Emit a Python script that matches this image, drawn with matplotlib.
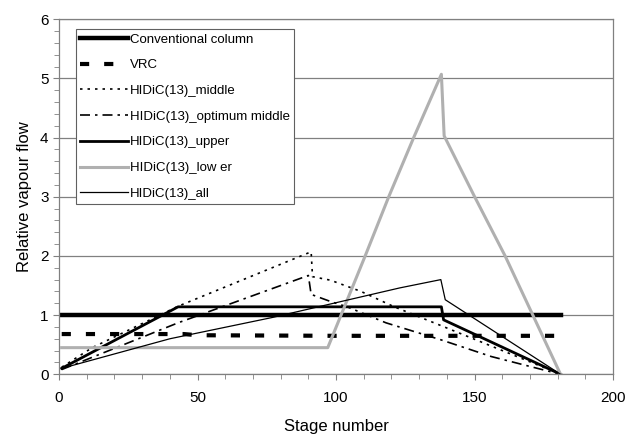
import matplotlib
matplotlib.use("Agg")
import matplotlib.pyplot as plt
from matplotlib.ticker import MultipleLocator

plt.rcParams['font.family'] = ['Liberation Sans', 'DejaVu Sans']

# stage numbers and relative vapour flow
conv_x = [1, 181]
conv_y = [1.0, 1.0]

vrc_x = [1, 45, 50, 100, 140, 179]
vrc_y = [0.68, 0.68, 0.66, 0.65, 0.65, 0.65]

middle_x = [1, 12, 43, 91, 91.5, 98, 109, 121, 138, 181]
middle_y = [0.12, 0.45, 1.15, 2.07, 1.65, 1.59, 1.40, 1.14, 0.82, 0.0]

optimum_x = [1, 43, 90, 91, 98, 104, 118, 138, 156, 181]
optimum_y = [0.08, 0.87, 1.67, 1.35, 1.23, 1.14, 0.87, 0.58, 0.30, 0.0]

upper_x = [1, 43, 138, 138.8, 181]
upper_y = [0.10, 1.14, 1.14, 0.92, 0.0]

lower_x = [1, 97, 110.5, 119, 128, 138, 139, 150, 161, 181]
lower_y = [0.45, 0.45, 2.0, 3.0, 4.0, 5.07, 4.03, 3.0, 2.0, 0.0]

all_x = [1, 40, 77, 123, 137.8, 139.4, 181]
all_y = [0.10, 0.60, 0.96, 1.46, 1.60, 1.26, 0.0]

labels = ["Conventional column", "VRC", "HIDiC(13)_middle",
          "HIDiC(13)_optimum middle", "HIDiC(13)_upper",
          "HIDiC(13)_low er", "HIDiC(13)_all"]


def draw():
    fig = plt.figure(figsize=(6.27, 4.34), dpi=100)
    ax = fig.add_axes([0.094, 0.1376, 0.884, 0.818])

    ax.plot(conv_x, conv_y, color="black", lw=3.2, label=labels[0])
    ax.plot(vrc_x, vrc_y, color="black", lw=3.0, dashes=(2.2, 3.6), label=labels[1])
    ax.plot(middle_x, middle_y, color="black", lw=1.2, dashes=(1.5, 3), label=labels[2])
    ax.plot(optimum_x, optimum_y, color="black", lw=1.2, dashes=(6, 3, 1.5, 3), label=labels[3])
    ax.plot(upper_x, upper_y, color="black", lw=2.0, label=labels[4])
    ax.plot(lower_x, lower_y, color="#b0b0b0", lw=2.2, label=labels[5])
    ax.plot(all_x, all_y, color="black", lw=0.9, label=labels[6])

    ax.set_xlim(0, 200)
    ax.set_ylim(0, 6)
    ax.xaxis.set_major_locator(MultipleLocator(50))
    ax.xaxis.set_minor_locator(MultipleLocator(10))
    ax.yaxis.set_major_locator(MultipleLocator(1))
    ax.yaxis.set_minor_locator(MultipleLocator(0.2))
    ax.tick_params(which="both", direction="out", color="#808080", labelsize=11)
    ax.tick_params(which="major", length=4)
    ax.tick_params(which="minor", length=3.5)
    ax.tick_params(axis="x", pad=8)

    ax.grid(axis="y", which="major", color="#808080", lw=0.9)
    ax.set_axisbelow(True)
    for s in ax.spines.values():
        s.set_color("#808080")
        s.set_linewidth(0.9)

    ax.set_xlabel("Stage number", fontsize=12, labelpad=10)
    ax.set_ylabel("Relative vapour flow", fontsize=12, labelpad=6)

    leg = ax.legend(loc="upper left", bbox_to_anchor=(0.03, 0.973), fontsize=9.5,
                    handlelength=3.6, handletextpad=0.15, labelspacing=1.02,
                    borderpad=0.35, fancybox=False, framealpha=1,
                    edgecolor="#606060", borderaxespad=0)
    leg.get_frame().set_linewidth(0.8)

    fig.savefig("out.png", dpi=100)


if __name__ == "__main__":
    draw()
